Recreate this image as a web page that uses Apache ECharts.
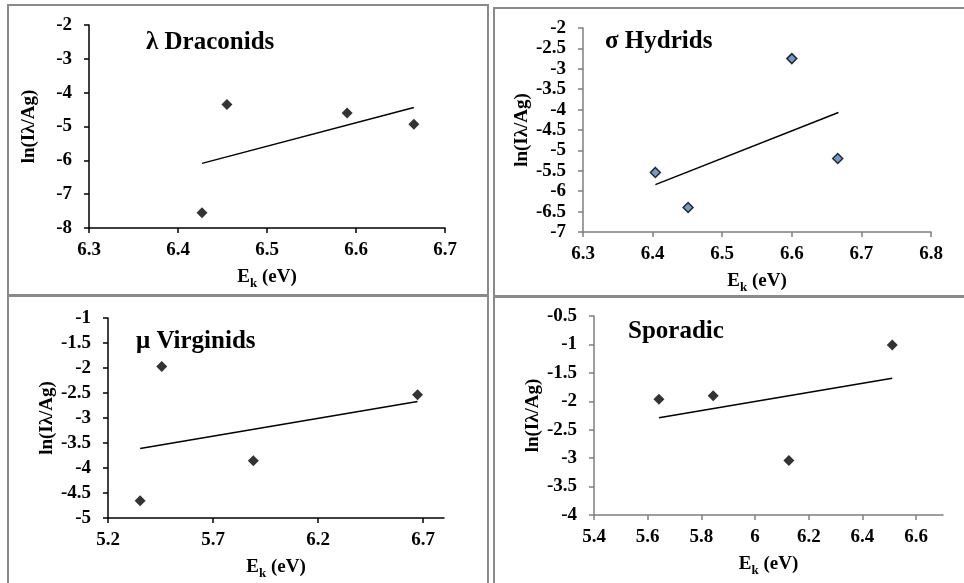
<!DOCTYPE html>
<html>
<head>
<meta charset="utf-8">
<script src="https://cdn.jsdelivr.net/npm/echarts@6/dist/echarts.min.js"></script>
<style>
  html, body { margin: 0; padding: 0; background: #fff; }
  #chart { width: 964px; height: 583px; }
</style>
</head>
<body>
<div id="chart"></div>
<script>
// λ Draconids
var dracX = [6.427, 6.455, 6.59, 6.665];
var dracY = [-7.55, -4.35, -4.6, -4.93];
var dracFitX = [6.427, 6.665];
var dracFitY = [-6.09, -4.44];

// σ Hydrids
var hydX = [6.404, 6.451, 6.6, 6.666];
var hydY = [-5.54, -6.4, -2.75, -5.2];
var hydFitX = [6.404, 6.667];
var hydFitY = [-5.84, -4.07];

// μ Virginids
var virX = [5.353, 5.456, 5.892, 6.674];
var virY = [-4.655, -1.97, -3.857, -2.535];
var virFitX = [5.353, 6.674];
var virFitY = [-3.61, -2.67];

// Sporadic
var spoX = [5.642, 5.844, 6.126, 6.511];
var spoY = [-1.963, -1.904, -3.04, -1.009];
var spoFitX = [5.642, 6.511];
var spoFitY = [-2.29, -1.594];

// tick labels for the x axes that do not start on a multiple of the step
var virTicks = [5.2, 5.7, 6.2, 6.7];
var spoTicks = [5.4, 5.6, 5.8, 6, 6.2, 6.4, 6.6];

var FONT = 'Liberation Serif';

function pairs(xs, ys) {
    return xs.map(function (x, i) { return [x, ys[i]]; });
}

function tickLabel(margin) {
    return { color: '#000', fontFamily: FONT, fontWeight: 700, fontSize: 19, margin: margin };
}

function xAxisOf(idx, min, max, color, extra) {
    var ax = {
        type: 'value',
        gridIndex: idx,
        min: min,
        max: max,
        name: '{e|E}{k|k}{e| (eV)}',
        nameLocation: 'middle',
        nameGap: 36,
        nameTextStyle: {
            rich: {
                e: { fontFamily: FONT, fontWeight: 700, fontSize: 19, color: '#000', lineHeight: 26, verticalAlign: 'middle' },
                k: { fontFamily: FONT, fontWeight: 700, fontSize: 13, color: '#000', lineHeight: 13, verticalAlign: 'bottom' }
            }
        },
        splitLine: { show: false },
        axisLine: { show: true, onZero: false, lineStyle: { color: color, width: 1.5 } },
        axisTick: { show: true, length: 5, lineStyle: { color: color, width: 1.5 } },
        axisLabel: tickLabel(13)
    };
    if (extra.interval) ax.interval = extra.interval;
    if (extra.ticks) {
        ax.axisLabel.customValues = extra.ticks;
        ax.axisTick.customValues = extra.ticks;
    }
    return ax;
}

function yAxisOf(idx, min, max, interval, color) {
    return {
        type: 'value',
        gridIndex: idx,
        min: min,
        max: max,
        interval: interval,
        name: 'ln(Iλ/Ag)',
        nameLocation: 'middle',
        nameGap: 50,
        nameTextStyle: { fontFamily: FONT, fontWeight: 700, fontSize: 19, color: '#000' },
        splitLine: { show: false },
        axisLine: { show: true, onZero: false, lineStyle: { color: color, width: 1.5 } },
        axisTick: { show: true, length: 5, lineStyle: { color: color, width: 1.5 } },
        axisLabel: tickLabel(17)
    };
}

function pointsOf(idx, xs, ys, style, size) {
    return {
        type: 'scatter',
        xAxisIndex: idx,
        yAxisIndex: idx,
        data: pairs(xs, ys),
        symbol: 'diamond',
        symbolSize: size,
        itemStyle: style,
        silent: true
    };
}

function fitOf(idx, xs, ys) {
    return {
        type: 'line',
        xAxisIndex: idx,
        yAxisIndex: idx,
        data: pairs(xs, ys),
        symbol: 'none',
        lineStyle: { color: '#000', width: 1.5 },
        silent: true
    };
}

function titleOf(text, left, top) {
    return {
        text: text,
        left: left,
        top: top,
        padding: 0,
        textStyle: { fontFamily: FONT, fontWeight: 700, fontSize: 25, color: '#000' }
    };
}

function frame(x, y, w, h) {
    return {
        type: 'rect',
        shape: { x: x, y: y, width: w, height: h },
        style: { fill: 'none', stroke: '#8a8a8a', lineWidth: 2 },
        silent: true
    };
}

var chart = echarts.init(document.getElementById('chart'));
var option = {
    animation: false,
    backgroundColor: '#fff',
    textStyle: { fontFamily: FONT, fontWeight: 700 },
    graphic: [
        frame(8, 5, 480, 290),
        frame(8, 296, 480, 300),
        frame(494, 8, 480, 288),
        frame(494, 297, 480, 300)
    ],
    title: [
        titleOf('λ Draconids', 146, 30),
        titleOf('σ Hydrids', 605, 29),
        titleOf('μ Virginids', 136, 329),
        titleOf('Sporadic', 628, 319)
    ],
    grid: [
        { left: 89, top: 25, width: 356, height: 203 },
        { left: 583, top: 28, width: 348, height: 204 },
        { left: 108, top: 318, width: 336, height: 200 },
        { left: 594, top: 316, width: 349, height: 199 }
    ],
    xAxis: [
        xAxisOf(0, 6.3, 6.7, '#000', { interval: 0.1 }),
        xAxisOf(1, 6.3, 6.8, '#7f7f7f', { interval: 0.1 }),
        xAxisOf(2, 5.2, 6.8, '#000', { ticks: virTicks }),
        xAxisOf(3, 5.4, 6.7, '#7f7f7f', { ticks: spoTicks })
    ],
    yAxis: [
        yAxisOf(0, -8, -2, 1, '#000'),
        yAxisOf(1, -7, -2, 0.5, '#7f7f7f'),
        yAxisOf(2, -5, -1, 0.5, '#000'),
        yAxisOf(3, -4, -0.5, 0.5, '#7f7f7f')
    ],
    series: [
        fitOf(0, dracFitX, dracFitY),
        pointsOf(0, dracX, dracY, { color: '#000' }, 11),
        fitOf(1, hydFitX, hydFitY),
        pointsOf(1, hydX, hydY, { color: '#4f81bd', borderColor: '#000', borderWidth: 1.5 }, 10),
        fitOf(2, virFitX, virFitY),
        pointsOf(2, virX, virY, { color: '#000' }, 11),
        fitOf(3, spoFitX, spoFitY),
        pointsOf(3, spoX, spoY, { color: '#000' }, 11)
    ]
};
chart.setOption(option);
</script>
</body>
</html>
